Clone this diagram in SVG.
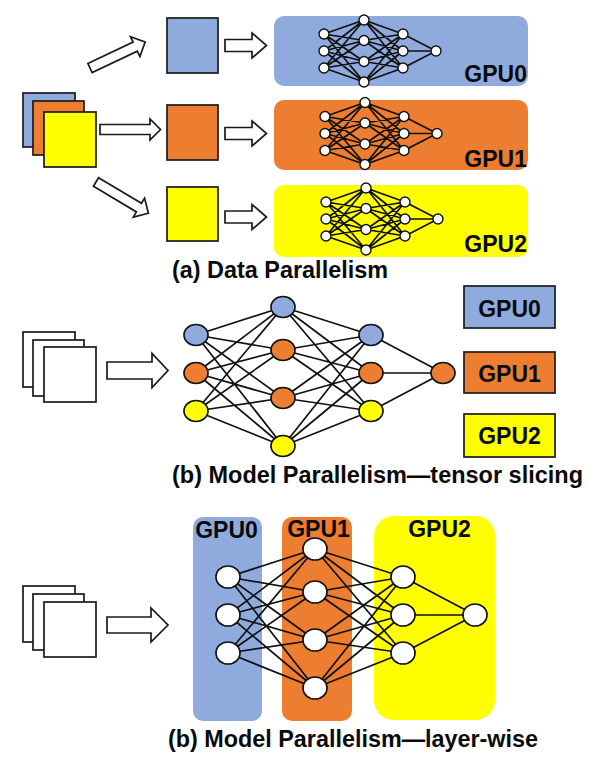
<svg xmlns="http://www.w3.org/2000/svg" xmlns:xlink="http://www.w3.org/1999/xlink" width="600" height="760" viewBox="0 0 600 760">
<style>
.blue{fill:#8FAADC}.orange{fill:#ED7D31}.yellow{fill:#FFFF00}.white{fill:#FFFFFF}
.box{stroke:#1a1a1a;stroke-width:1.7}
.arrow{fill:#FFFFFF;stroke:#1a1a1a;stroke-width:1.7;stroke-linejoin:miter}
.edge{fill:none;stroke:#111;stroke-width:1.7}
.node{stroke:#111;stroke-width:1.7}
.mnode{fill:#FFFFFF;stroke:#111;stroke-width:1.4}
.lbl{font-family:"Liberation Sans",Arial,Helvetica,sans-serif;font-weight:bold;font-size:23px;fill:#0a0a0a}
.cap{font-size:23.5px}
</style>
<defs>
<path id="miniEdges" class="edge" stroke-width="1.4" d="M0-17L40-31M0-17L40-10.5M0-17L40 10.5M0-17L40 31M0 0L40-31M0 0L40-10.5M0 0L40 10.5M0 0L40 31M0 17L40-31M0 17L40-10.5M0 17L40 10.5M0 17L40 31M40-31L79-17M40-31L79 0M40-31L79 17M40-10.5L79-17M40-10.5L79 0M40-10.5L79 17M40 10.5L79-17M40 10.5L79 0M40 10.5L79 17M40 31L79-17M40 31L79 0M40 31L79 17M79-17L112 0M79 0L112 0M79 17L112 0"/>
<g id="miniNodes">
<circle class="mnode" cx="0" cy="-17" r="5"/><circle class="mnode" cx="0" cy="0" r="5"/><circle class="mnode" cx="0" cy="17" r="5"/>
<circle class="mnode" cx="40" cy="-31" r="5"/><circle class="mnode" cx="40" cy="-10.5" r="5"/><circle class="mnode" cx="40" cy="10.5" r="5"/><circle class="mnode" cx="40" cy="31" r="5"/>
<circle class="mnode" cx="79" cy="-17" r="5"/><circle class="mnode" cx="79" cy="0" r="5"/><circle class="mnode" cx="79" cy="17" r="5"/>
<circle class="mnode" cx="112" cy="0" r="5"/>
</g>
<path id="bigEdges" class="edge" d="M0-38L87-66M0-38L87-23M0-38L87 25M0-38L87 73M0 0L87-66M0 0L87-23M0 0L87 25M0 0L87 73M0 38L87-66M0 38L87-23M0 38L87 25M0 38L87 73M87-66L175-38M87-66L175 0M87-66L175 38M87-23L175-38M87-23L175 0M87-23L175 38M87 25L175-38M87 25L175 0M87 25L175 38M87 73L175-38M87 73L175 0M87 73L175 38M175-38L247 0M175 0L247 0M175 38L247 0"/>
<path id="diagArrow" class="arrow" d="M0-5L50-5L50-11L61 0L50 11L50 5L0 5Z"/>
</defs>

<!-- (a) Data Parallelism -->
<g id="a-stack">
<rect class="blue box" x="23" y="93" width="52" height="54"/>
<rect class="orange box" x="33" y="101" width="51" height="54"/>
<rect class="yellow box" x="44" y="112" width="52" height="55"/>
</g>
<g id="a-batch0"><rect class="blue box" x="167" y="18" width="51" height="55"/></g>
<g id="a-batch1"><rect class="orange box" x="167" y="105" width="51" height="55"/></g>
<g id="a-batch2"><rect class="yellow box" x="167" y="187" width="51" height="54"/></g>
<g id="a-gpu0"><rect class="blue" x="274" y="16" width="254" height="70" rx="10"/></g>
<g id="a-gpu1"><rect class="orange" x="274" y="100" width="254" height="70" rx="10"/></g>
<g id="a-gpu2"><rect class="yellow" x="274" y="185" width="254" height="72" rx="10"/></g>

<g id="connectors">
<!-- part a arrows -->
<use xlink:href="#diagArrow" transform="translate(90,68) rotate(-25.3)"/>
<polygon class="arrow" points="100,124.5 150,124.5 150,119 160.5,129.5 150,140 150,134.5 100,134.5"/>
<use xlink:href="#diagArrow" transform="translate(96,182) rotate(30.8)"/>
<polygon class="arrow" points="225,39.5 252,39.5 252,33 266.5,45.5 252,58 252,51.5 225,51.5"/>
<polygon class="arrow" points="225,127.5 252,127.5 252,121 266.5,133.5 252,146 252,139.5 225,139.5"/>
<polygon class="arrow" points="225,211 252,211 252,204.5 266.5,217 252,229.5 252,223 225,223"/>
<!-- part a networks -->
<use xlink:href="#miniEdges" transform="translate(324,51)"/>
<use xlink:href="#miniEdges" transform="translate(325,133.5)"/>
<use xlink:href="#miniEdges" transform="translate(326,219)"/>
<!-- part b -->
<polygon class="arrow" points="107,362 152,362 152,353.5 168,370.5 152,387.5 152,379 107,379"/>
<use xlink:href="#bigEdges" transform="translate(196,373)"/>
<!-- part c -->
<polygon class="arrow" points="107,617 151,617 151,608 168,625 151,642 151,633 107,633"/>
</g>

<g id="a-net0"><use xlink:href="#miniNodes" transform="translate(324,51)"/></g>
<g id="a-net1"><use xlink:href="#miniNodes" transform="translate(325,133.5)"/></g>
<g id="a-net2"><use xlink:href="#miniNodes" transform="translate(326,219)"/></g>
<g id="a-labels">
<text class="lbl" x="527" y="82" text-anchor="end">GPU0</text>
<text class="lbl" x="527" y="167" text-anchor="end">GPU1</text>
<text class="lbl" x="527" y="252" text-anchor="end">GPU2</text>
</g>
<g id="caption-a"><text class="lbl cap" x="172" y="278" textLength="216" lengthAdjust="spacingAndGlyphs">(a) Data Parallelism</text></g>

<!-- (b) Model Parallelism — tensor slicing -->
<g id="b-stack">
<rect class="white box" x="23" y="332" width="52" height="55"/>
<rect class="white box" x="33" y="340" width="51" height="56"/>
<rect class="white box" x="44" y="347" width="52" height="55"/>
</g>
<g id="b-nodes">
<ellipse id="b-n11" class="node blue" cx="196" cy="335" rx="12" ry="10.5"/>
<ellipse id="b-n12" class="node orange" cx="196" cy="373" rx="12" ry="10.5"/>
<ellipse id="b-n13" class="node yellow" cx="196" cy="411" rx="12" ry="10.5"/>
<ellipse id="b-n21" class="node blue" cx="283" cy="307" rx="12" ry="10.5"/>
<ellipse id="b-n22" class="node orange" cx="283" cy="350" rx="12" ry="10.5"/>
<ellipse id="b-n23" class="node orange" cx="283" cy="398" rx="12" ry="10.5"/>
<ellipse id="b-n24" class="node yellow" cx="283" cy="446" rx="12" ry="10.5"/>
<ellipse id="b-n31" class="node blue" cx="371" cy="335" rx="12" ry="10.5"/>
<ellipse id="b-n32" class="node orange" cx="371" cy="373" rx="12" ry="10.5"/>
<ellipse id="b-n33" class="node yellow" cx="371" cy="411" rx="12" ry="10.5"/>
<ellipse id="b-n41" class="node orange" cx="443" cy="373" rx="12" ry="10.5"/>
</g>
<g id="b-gpu0"><rect class="blue box" x="464" y="286" width="91" height="42"/><text class="lbl" x="509.5" y="317" text-anchor="middle">GPU0</text></g>
<g id="b-gpu1"><rect class="orange box" x="464" y="352" width="91" height="41"/><text class="lbl" x="509.5" y="382" text-anchor="middle">GPU1</text></g>
<g id="b-gpu2"><rect class="yellow box" x="464" y="414" width="91" height="43"/><text class="lbl" x="509.5" y="444" text-anchor="middle">GPU2</text></g>
<g id="caption-b"><text class="lbl cap" x="172" y="483" textLength="411" lengthAdjust="spacingAndGlyphs">(b) Model Parallelism—tensor slicing</text></g>

<!-- (c) Model Parallelism — layer-wise -->
<g id="c-stack">
<rect class="white box" x="23" y="586" width="52" height="56"/>
<rect class="white box" x="33" y="594" width="51" height="56"/>
<rect class="white box" x="44" y="602" width="52" height="55"/>
</g>
<g id="c-gpu0"><rect class="blue" x="193" y="517" width="69" height="204" rx="10"/><text class="lbl" x="226.5" y="538" text-anchor="middle">GPU0</text></g>
<g id="c-gpu1"><rect class="orange" x="282" y="517" width="70" height="204" rx="10"/><text class="lbl" x="318.5" y="537" text-anchor="middle">GPU1</text></g>
<g id="c-gpu2"><rect class="yellow" x="374" y="516" width="121" height="204" rx="20"/><text class="lbl" x="439.5" y="537" text-anchor="middle">GPU2</text></g>
<g id="c-connectors"><use xlink:href="#bigEdges" transform="translate(228,615)"/></g>
<g id="c-nodes">
<ellipse id="c-n11" class="node white" cx="228" cy="577" rx="12" ry="11"/>
<ellipse id="c-n12" class="node white" cx="228" cy="615" rx="12" ry="11"/>
<ellipse id="c-n13" class="node white" cx="228" cy="653" rx="12" ry="11"/>
<ellipse id="c-n21" class="node white" cx="315" cy="549" rx="12" ry="11"/>
<ellipse id="c-n22" class="node white" cx="315" cy="592" rx="12" ry="11"/>
<ellipse id="c-n23" class="node white" cx="315" cy="640" rx="12" ry="11"/>
<ellipse id="c-n24" class="node white" cx="315" cy="688" rx="12" ry="11"/>
<ellipse id="c-n31" class="node white" cx="403" cy="577" rx="12" ry="11"/>
<ellipse id="c-n32" class="node white" cx="403" cy="615" rx="12" ry="11"/>
<ellipse id="c-n33" class="node white" cx="403" cy="653" rx="12" ry="11"/>
<ellipse id="c-n41" class="node white" cx="475" cy="615" rx="12" ry="11"/>
</g>
<g id="caption-c"><text class="lbl cap" x="168" y="747" textLength="370" lengthAdjust="spacingAndGlyphs">(b) Model Parallelism—layer-wise</text></g>
</svg>
